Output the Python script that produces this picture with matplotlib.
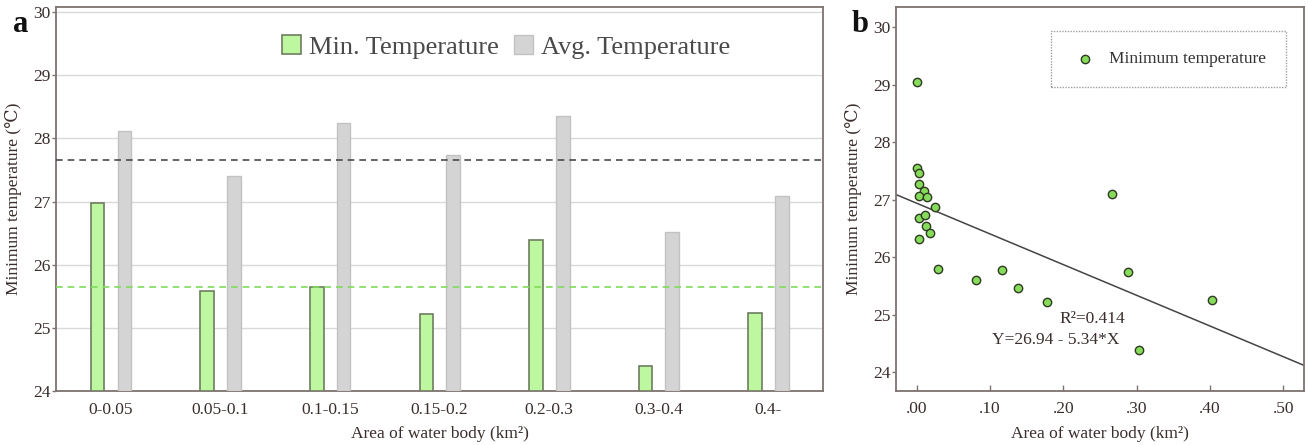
import matplotlib
matplotlib.use("Agg")
import matplotlib.pyplot as plt
import numpy as np

plt.rcParams['font.family'] = ['Liberation Serif', 'DejaVu Serif']

# ---- data (panel a) ----
categories = ["0-0.05", "0.05-0.1", "0.1-0.15", "0.15-0.2", "0.2-0.3", "0.3-0.4", "0.4-"]
min_temp = [26.98, 25.59, 25.64, 25.22, 26.39, 24.40, 25.24]
avg_temp = [28.11, 27.41, 28.25, 27.73, 28.36, 26.52, 27.08]
avg_line = 27.65
min_line = 25.65

# ---- data (panel b) ----
area = [0.000, 0.000, 0.003, 0.004, 0.0105, 0.003, 0.0136, 0.025, 0.0027, 0.0118,
        0.0123, 0.018, 0.0036, 0.0295, 0.0805, 0.117, 0.1386, 0.178, 0.266, 0.288,
        0.3036, 0.403]
tmin = [29.05, 27.56, 27.47, 27.27, 27.15, 27.07, 27.04, 26.87, 26.69, 26.73,
        26.54, 26.42, 26.32, 25.80, 25.61, 25.78, 25.46, 25.22, 27.10, 25.74,
        24.39, 25.26]
intercept = 26.94
slope = -5.34
r2 = 0.414
xticks_b = [0.0, 0.1, 0.2, 0.3, 0.4, 0.5]
xticklabels_b = [".00", ".10", ".20", ".30", ".40", ".50"]

TXT = "#3a2e2c"
SPINE = "#7d7370"
GREEN_FILL = "#bdf79f"
GREEN_EDGE = "#6d7d5f"
GRAY_FILL = "#d4d4d4"
GRAY_EDGE = "#c2c2c2"

fig = plt.figure(figsize=(13.08, 4.45), dpi=100)
ax1 = fig.add_axes([56/1308, 54/445, (823-56)/1308, (391-7)/445])
ax2 = fig.add_axes([896/1308, 54/445, (1304-896)/1308, (391-7)/445])

# ---- panel a ----
x = np.arange(len(categories))
w = 0.125
ax1.bar(x - 0.12, np.array(min_temp) - 24, bottom=24, width=w, color=GREEN_FILL,
        edgecolor=GREEN_EDGE, linewidth=1.2, label="Min. Temperature", zorder=3)
ax1.bar(x + 0.125, np.array(avg_temp) - 24, bottom=24, width=w, color=GRAY_FILL,
        edgecolor=GRAY_EDGE, linewidth=1.0, label="Avg. Temperature", zorder=3)
ax1.axhline(avg_line, color="#4a4a4a", linestyle=(0, (4, 3)), linewidth=1.2, zorder=4)
ax1.axhline(min_line, color="#7fdc5a", linestyle=(0, (4, 3)), linewidth=1.2, zorder=4)
ax1.set_xlim(-0.5, len(categories) - 0.5)
ax1.set_ylim(24, 30.08)
ax1.set_yticks([24, 25, 26, 27, 28, 29, 30])
ax1.yaxis.grid(True, color="#d9d9d9", linewidth=1.0, zorder=0)
ax1.set_axisbelow(True)
ax1.set_xticks(x)
ax1.set_xticklabels(categories)
ax1.tick_params(axis='x', length=0, pad=8, labelsize=12.5, labelcolor=TXT)
ax1.tick_params(axis='y', length=3, width=1, color=SPINE, pad=1, labelsize=12.5, labelcolor=TXT)
ax1.set_xlabel("Area of water body (km²)", fontsize=12.5, color=TXT, labelpad=6)
ax1.set_ylabel("Minimum temperature (℃)", fontsize=12.5, color=TXT, labelpad=8)
for s in ax1.spines.values():
    s.set_color(SPINE)
    s.set_linewidth(1.3)
leg1 = ax1.legend(loc="center", bbox_to_anchor=(0.587, 0.896), ncol=2, frameon=False,
                  fontsize=19, handlelength=0.7, handleheight=0.7, handletextpad=0.3,
                  columnspacing=0.6, borderaxespad=0, borderpad=0)
for t in leg1.get_texts():
    t.set_color("#4a4a4a")
fig.text(13/1308, 1 - 24/445, "a", fontsize=22, fontweight="bold", color="#111111", va="center")

# ---- panel b ----
ax2.scatter(area, tmin, s=36, color="#86dc5a", edgecolor="#2e3a22", linewidth=1.0,
            zorder=3, label="Minimum temperature")
xl = np.array([-0.028, 0.528])
ax2.plot(xl, intercept + slope * xl, color="#444444", linewidth=1.1, zorder=2)
ax2.set_xlim(-0.028, 0.528)
ax2.set_ylim(23.675, 30.35)
ax2.set_yticks([24, 25, 26, 27, 28, 29, 30])
ax2.set_xticks(xticks_b)
ax2.set_xticklabels(xticklabels_b)
ax2.tick_params(axis='x', direction='in', length=4, width=1, color=SPINE, pad=7,
                labelsize=12.5, labelcolor=TXT)
ax2.tick_params(axis='y', direction='out', length=3, width=1, color=SPINE, pad=1,
                labelsize=12.5, labelcolor=TXT)
ax2.set_xlabel("Area of water body (km²)", fontsize=12.5, color=TXT, labelpad=7)
ax2.set_ylabel("Minimum temperature (℃)", fontsize=12.5, color=TXT, labelpad=8)
for s in ax2.spines.values():
    s.set_color(SPINE)
    s.set_linewidth(1.3)
leg2 = ax2.legend(loc="upper right", bbox_to_anchor=(0.956, 0.9375), frameon=True,
                  fontsize=12.5, borderpad=1.15, handlelength=1.6, handletextpad=0.6,
                  borderaxespad=0, fancybox=False)
leg2.get_frame().set_linestyle((0, (1, 1)))
leg2.get_frame().set_edgecolor("#888888")
leg2.get_frame().set_linewidth(1.0)
for t in leg2.get_texts():
    t.set_color("#333333")
ax2.text(0.239, 24.93, "R²=%.3f" % r2, fontsize=12.5, color=TXT, ha="center", va="center")
eq = "Y=%.2f - %.2f*X" % (intercept, -slope)
ax2.text(0.190, 24.56, eq, fontsize=12.5, color=TXT, ha="center", va="center")
fig.text(852/1308, 1 - 24/445, "b", fontsize=22, fontweight="bold", color="#111111", va="center")

fig.savefig("out.png", dpi=100)
